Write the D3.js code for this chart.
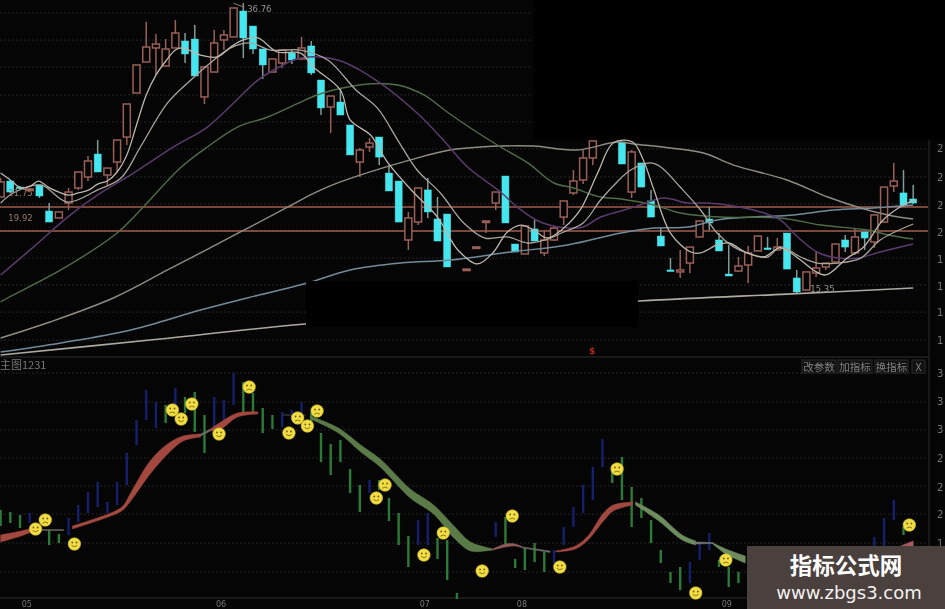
<!DOCTYPE html>
<html><head><meta charset="utf-8">
<script src="https://cdn.jsdelivr.net/npm/d3@7/dist/d3.min.js"></script>
<style>html,body{margin:0;padding:0;background:#050505;overflow:hidden}svg{display:block}</style>
</head><body><div id="c"></div>
<script>
const opens=[22.51,23.73,23.27,23.05,23.43,21.44,20.91,22.05,23.2,24.04,
25.79,24.19,25.18,27.09,30.45,32.82,33.89,32.51,33.89,34.42,
34.57,30.15,32.05,34.5,34.73,36.71,35.56,33.81,32.05,32.74,
33.5,33.05,34.04,31.44,29.38,29.76,28.01,25.18,26.33,27.09,
24.34,23.73,19.23,20.6,23.05,20.83,21.21,null,17.01,18.7,
20.68,22.05,24.11,18.92,18.16,20.07,18.24,19.23,20.98,22.82,
23.81,25.49,null,null,26.71,22.89,25.11,22.21,19.53,16.94,
16.79,17.47,19.46,20.83,19.23,16.63,16.86,17.32,18.39,18.62,
18.47,19.76,16.33,15.41,16.71,17.17,17.55,19.23,18.24,19.84,
19.08,20.6,23.35,22.82,22.36];
const highs=[23.96,23.81,23.35,23.2,23.43,22.05,21.37,23.2,24.42,25.64,
26.86,24.72,26.86,29.61,32.59,35.87,34.95,34.57,36.02,35.03,
35.64,32.44,35.26,35.26,36.94,37.32,35.56,33.81,33.05,33.73,
33.73,34.73,34.42,31.44,30.22,30.83,28.01,26.25,27.02,27.09,
24.95,23.73,21.37,23.2,23.96,22.51,21.21,null,17.01,18.7,
20.68,22.89,24.11,18.92,20.3,20.76,19.99,20.3,22.21,24.57,
26.1,26.79,null,null,26.71,26.1,25.11,23.05,20.14,17.85,
18.47,18.69,20.68,21.75,19.76,18.85,17.93,18.77,19.53,19.46,
19.38,19.76,16.94,16.79,18.31,17.47,18.92,19.61,20.07,19.84,
21.14,23.27,25.11,24.57,23.43];
const lows=[22.51,22.82,23.12,22.97,22.43,20.6,20.91,21.52,23.05,23.73,
24.42,23.35,24.42,26.48,30.45,32.82,31.82,32.51,33.89,32.74,
31.75,29.61,32.05,33.73,34.73,33.12,33.43,31.52,32.05,32.36,
32.66,32.97,31.82,28.77,27.4,28.77,25.72,24.04,25.95,24.95,
22.97,20.6,18.47,20.37,20.91,19.15,17.17,null,17.01,18.7,
19.76,21.52,20.53,18.31,18.16,19.15,18.01,19.15,20.37,22.66,
23.5,24.95,null,null,25.03,22.43,23.27,20.98,18.77,16.86,
16.33,16.71,19.46,19.99,18.39,16.48,16.79,15.95,18.39,18.47,
18.39,17.01,15.18,15.41,16.4,16.94,17.55,18.31,18.08,18.47,
18.62,20.6,22.89,21.75,21.97];
const closes=[23.66,22.89,23.2,23.12,22.59,20.6,21.37,22.89,24.42,25.26,
24.42,24.72,26.86,29.61,32.59,33.96,34.19,33.81,35.03,33.43,
31.75,32.44,34.27,34.88,36.94,34.65,33.81,32.59,33.05,33.73,
32.97,33.89,31.98,29.31,30.22,28.77,25.72,26.1,26.63,25.56,
22.97,20.6,20.91,23.2,21.37,19.15,17.17,null,17.01,18.7,
20.68,22.89,20.53,18.31,20.3,19.15,19.23,20.14,22.21,23.73,
25.49,26.79,null,null,25.03,25.95,23.27,20.98,18.77,16.86,
16.94,18.69,20.68,20.53,18.39,16.48,17.24,18.24,19.53,18.54,
18.69,17.01,15.26,16.79,17.09,17.47,18.92,18.69,19.46,19.38,
21.14,23.27,23.73,21.83,22.05];

const ma5=[[0,24.34],[1,23.81],[2.1,23.2],[3.1,23.35],[3.9,23.73],[4.9,23.27],[6,22.89],[7,22.66],[8,22.82],[9.1,23.05],[10,23.5],[11,23.73],[12,24.42],[13,25.72],[14,28.01],[15,30.3],[16,31.82],[17.1,32.97],[18,33.73],[18.7,33.89],[20.6,33.35],[22.3,33.2],[23.7,33.96],[25,34.5],[26.5,34.65],[28.5,33.58],[30.9,33.5],[32.2,32.44],[35,30.68],[36,28.39],[38.1,27.24],[39.9,25.11],[42.5,22.89],[45,20.98],[47.1,18.47],[49.1,17.4],[50.7,18.24],[52.2,19.84],[53.6,20.37],[54.9,19.99],[56.3,19.38],[58,20.14],[59.7,21.52],[61.5,24.34],[63.1,26.63],[65.1,26.71],[66.2,25.34],[67.3,23.05],[69,19.76],[71.1,18.31],[72.1,18.24],[73.8,18.85],[75,19],[76.9,18.24],[78.6,17.93],[80.3,18.62],[82.4,17.7],[83.7,16.94],[85,16.56],[87.2,17.85],[88.9,18.7],[90.9,20.76],[93,21.9],[94.2,22.28]];
const ma10=[[0,22.05],[1.3,22.82],[4.1,23.43],[6.9,22.13],[10,23.05],[12.4,23.96],[14.4,26.33],[17.2,29.69],[19.6,31.44],[21.6,32.74],[23.7,33.89],[25.7,34.27],[27.8,33.73],[30.9,33.73],[33.7,32.97],[36.6,30.68],[38.8,29.31],[40.9,26.86],[42.9,24.57],[45.3,22.82],[47.7,20.53],[49.9,19.38],[52.2,19.46],[54.3,19],[56.1,19.23],[58,19.84],[60,20.53],[61.8,22.28],[63.5,23.66],[64.9,24.57],[66.9,25.11],[68,24.8],[70,23.27],[72.1,21.52],[73.8,19.76],[75.5,18.7],[76.9,18.24],[79,17.93],[80.3,18.7],[82.4,17.93],[84.1,17.47],[86.2,17.47],[88.6,17.85],[90.6,19.23],[94,20.45]];
const ma20=[[0,16.56],[3.4,18.7],[6.9,20.98],[10.3,22.82],[13.7,24.34],[17.8,26.33],[21.3,27.85],[24,29.69],[26.5,31.44],[29.1,32.59],[30.9,33.12],[34.7,32.97],[39.1,31.21],[42.9,28.92],[45.6,26.86],[48.1,24.8],[51.5,22.89],[53.2,21.75],[55.6,20.6],[58.4,20.14],[60,20.22],[61.8,20.98],[63.9,21.44],[65.9,21.9],[68.3,22.43],[70.8,22.05],[72.8,22.05],[75.5,21.82],[78.3,21.37],[80.3,20.76],[82.1,19.46],[84.1,18.31],[86.2,17.85],[88.3,17.85],[90.6,18.31],[94,18.92]];
const ma30=[[0,14.5],[0.7,14.8],[6.2,16.94],[12,19.76],[14.7,21.75],[18.5,24.72],[21.3,26.33],[24.4,27.85],[27.5,28.62],[30.9,29.76],[32.6,30.3],[34.3,30.68],[37.8,31.14],[40.9,31.06],[43.6,30.3],[46,29],[48.4,27.78],[51.5,26.33],[54.3,25.11],[57,23.58],[59,23.2],[61.8,22.51],[63.9,22.36],[67.3,21.9],[70,21.29],[74.2,20.98],[80.3,20.91],[84.5,20.37],[89.3,19.99],[91.4,19.61],[94,19.3]];
const ma60=[[0,11.75],[5.1,12.97],[11.6,14.8],[17.2,16.94],[24.7,19.84],[29.6,21.75],[30.9,22.28],[33,23.05],[35,23.66],[42.2,25.34],[46.3,26.1],[51.5,26.4],[54.9,26.4],[59.4,26.1],[63.5,26.71],[65.2,26.56],[69,26.25],[72.4,25.87],[75.5,24.95],[81,23.81],[85.2,22.51],[88.6,21.67],[91.4,21.14],[94,20.83]];
const ma120=[[0,10.68],[6.2,11.37],[13.4,12.36],[20.6,13.88],[25.4,14.8],[31.6,15.95],[36,16.94],[41.2,17.47],[46.3,17.7],[52.5,18.31],[58.4,18.85],[63.9,19.76],[67.3,20.14],[70.8,20.22],[73.8,20.76],[77.5,20.98],[81.7,21.14],[85.8,21.52],[89.9,21.67],[94,21.9]];
const ma250=[[0,10.45],[15.4,11.59],[31.4,12.81],[65.8,14.57],[81,15.1],[94,15.56]];
const maNames=[ma250,ma120,ma60,ma30,ma20,ma10,ma5];
const maColors=["#aeaaa2","#718b9a","#8f8c82","#4f6e47","#5c3a6e","#aaa59a","#bdb7ac"];
const maWidths=[1.6,1.5,1.4,1.4,1.5,1.3,1.3];

const levels=[21.75,19.92];
const priceTicks=[36.56,34.49,32.43,30.3,28.24,26.18,24.04,21.98,19.92,17.85,15.79,13.73,11.59];
const priceTickLabels=["2","2","2","2","1","1","1","1"];
const priceTickLabelVals=[26.25,24.04,21.9,19.84,17.78,15.7,13.7,11.6];
const priceNotes=[["36.76",25.4,36.9],["21.75",0.8,22.2],["19.92",0.8,20.3],["15.35",83.4,15.35]];
const peakHook=[[24,37.3],[25.1,37.0]];

const barHi=[99,97,94,96,null,79,75,91,104,117,127,107,127,156,189,219,207,204,221,212,217,194,212,209,236,227,216,201,194,197,199,207,196,176,165,169,140,124,129,129,111,96,73,89,96,71,69,16,null,null,null,87,92,50,61,66,57,59,82,102,124,142,170,144,152,122,111,89,59,37,42,47,66,76,49,42,37,null,null,null,null,null,null,null,null,null,null,null,null,null,72,91,109,82,null];
const barLo=[83,86,81,86,null,64,66,74,87,96,102,96,104,124,164,189,181,186,204,196,177,156,181,184,204,196,196,176,180,182,189,192,184,147,134,147,116,97,116,119,88,64,42,64,64,50,29,10,null,null,null,72,64,41,39,47,37,46,64,82,96,109,142,126,109,82,91,66,46,26,19,26,49,59,42,22,26,null,null,null,null,null,null,null,null,null,null,null,null,null,62,62,89,74,null];
const barUp=new Set([3,7,8,9,10,11,12,13,14,15,16,18,22,23,24,29,30,31,38,43,44,51,57,58,59,60,61,62,71,72,73,90,91,92]);

const ribbons=[
 ["#a2483f",[[0,74,67],[2.1,78,73],[3.7,82,79]]],
 ["#6d6d62",[[3.8,80,79],[4.8,79.5,78.5],[6.5,79.5,78.5]]],
 ["#a2483f",[[7.4,83,80],[11.6,97,94],[12.6,103,99],[13.4,116,108],[15.4,148,135],[17.2,165,155],[18.8,173,168],[20.6,175,172]]],
 ["#6d6d62",[[20.6,175,173],[21.6,180,178]]],
 ["#a2483f",[[21.6,180,178],[22.7,187,180],[24.4,196,192],[26.5,197,195]]],
 ["#33332f",[[29.1,194.5,193.5],[31.4,194.5,193.5]]],
 ["#5a7a48",[[31.9,193,190],[34.8,181,176],[37.1,164,157],[39.1,150,142],[42.2,120,111],[44.6,104,95],[46.7,83,71],[48.4,67,58],[49.9,62,58],[50.7,60,59]]],
 ["#8d5a58",[[50.7,60,59],[52,65,62],[53,65,63],[53.8,62,61]]],
 ["#6b6f66",[[53.8,62,61],[56.6,58,56.5]]],
 ["#a2483f",[[57.2,58,57],[59.2,63,60],[60.5,73,69],[62.1,96,88],[63.1,104,98],[65.1,107,104]]],
 ["#6e8d5f",[[65.4,107,104],[67.8,94,88],[70.2,74,69],[71.6,68,64]]],
 ["#77797a",[[71.6,67,65],[73.3,66.5,65.5]]],
 ["#6e8d5f",[[73.3,66.5,65.5],[74.7,60,55],[76.7,53,46]]],
 ["#a85a5f",[[92.7,63,60],[94,68,63]]]
];
const faceIdx=[3.6,4.6,7.6,17.7,18.6,19.7,22.5,25.6,29.7,30.6,31.6,32.6,38.7,39.6,43.6,45.6,49.6,52.7,57.6,63.5,71.6,74.7,93.6];
const faceVal=[80,89,65,199,190,205,175,222,176,191,183,198,111,124,54,76,38,93,42,140,16,49,84];
const faceMood=["s","f","s","f","s","f","s","f","s","f","s","f","s","f","s","f","s","f","s","f","s","f","f"];
const lowerGrid=[236,207,179,151,123,95,66,37];
const lowerTickVals=[236,208,180,151,122,95,66];
const lowerTickLabels=["3","3","3","2","2","2","1"];
const monthIdx=[2.7,22.7,43.7,53.7,74.8];
const monthLabels=["05","06","07","08","09"];
const buttons=[["改参数",802,34],["加指标",838,34],["换指标",875,33],["X",912,13]];

const W=945,H=609;
const svg=d3.select("#c").append("svg").attr("width",W).attr("height",H).style("background","#050505");
const root=svg.append("g").style("filter","blur(0.7px)");
const x=d3.scaleLinear().domain([0,94]).range([0.6,913.2]);
const y=d3.scaleLinear().domain([37.55,37.55-609*0.07634]).range([0,609]);
const yl=d3.scaleLinear().domain([0,252]).range([609,357]);

root.append("g").selectAll("line").data(priceTicks).join("line")
 .attr("x1",0).attr("x2",928).attr("y1",d=>y(d)).attr("y2",d=>y(d))
 .attr("stroke","#252525").attr("stroke-width",1).attr("stroke-dasharray","2 2");
root.append("g").selectAll("line").data(lowerGrid).join("line")
 .attr("x1",0).attr("x2",928).attr("y1",d=>yl(d)).attr("y2",d=>yl(d))
 .attr("stroke","#242424").attr("stroke-width",1).attr("stroke-dasharray","2 2");
root.append("rect").attr("x",533).attr("y",0).attr("width",412).attr("height",140).attr("fill","#000");
root.append("line").attr("x1",929).attr("x2",929).attr("y1",140).attr("y2",600).attr("stroke","#2a2a2a");
root.append("line").attr("x1",0).attr("x2",929).attr("y1",357).attr("y2",357).attr("stroke","#2e2e2e");
root.append("line").attr("x1",0).attr("x2",929).attr("y1",598).attr("y2",598).attr("stroke","#2e2e2e");
root.append("g").selectAll("line").data(levels).join("line")
 .attr("x1",0).attr("x2",928).attr("y1",d=>y(d)).attr("y2",d=>y(d))
 .attr("stroke","#a05c4c").attr("stroke-width",1.6);

const idx=d3.range(opens.length).filter(i=>opens[i]!=null);
const UP="#9a5f56",DN="#46e6ee";
const cg=root.append("g");
cg.selectAll("line").data(idx).join("line")
 .attr("x1",i=>x(i)).attr("x2",i=>x(i)).attr("y1",i=>y(highs[i])).attr("y2",i=>y(lows[i]))
 .attr("stroke",i=>closes[i]>=opens[i]?UP:"#7c9c9a").attr("stroke-width",1.5);
cg.selectAll("rect").data(idx).join("rect")
 .attr("x",i=>x(i)-3.5).attr("width",7)
 .attr("y",i=>y(Math.max(opens[i],closes[i])))
 .attr("height",i=>Math.max(1.5,Math.abs(y(opens[i])-y(closes[i]))))
 .attr("fill",i=>closes[i]>=opens[i]?"#050505":DN)
 .attr("stroke",i=>closes[i]>=opens[i]?UP:DN).attr("stroke-width",i=>closes[i]>=opens[i]?1.5:0.5);

const line=d3.line().x(d=>x(d[0])).y(d=>y(d[1])).curve(d3.curveCatmullRom.alpha(0.5));
root.append("g").selectAll("path").data(maNames).join("path")
 .attr("d",line).attr("fill","none").attr("stroke",(d,i)=>maColors[i]).attr("stroke-width",(d,i)=>maWidths[i]);

root.append("rect").attr("x",306).attr("y",281).attr("width",332).attr("height",46).attr("fill","#000");

root.append("g").selectAll("text").data(priceNotes).join("text")
 .attr("x",d=>x(d[1])).attr("y",d=>y(d[2])+(d[0]==="36.76"?3:d[0]==="15.35"?1:-5))
 .text(d=>d[0]).attr("font-family","DejaVu Sans").attr("font-size",8.5)
 .attr("fill",d=>d[0]==="21.75"||d[0]==="19.92"?"#a07868":"#96928a");
root.append("path").attr("d",d3.line().x(d=>x(d[0])).y(d=>y(d[1]))(peakHook))
 .attr("fill","none").attr("stroke","#8a8078").attr("stroke-width",1);
root.append("text").attr("x",589).attr("y",354).text("$").attr("font-family","DejaVu Sans").attr("font-size",9).attr("font-weight","bold").attr("fill","#b8281e");

const barIdx=d3.range(barHi.length).filter(i=>barHi[i]!=null);
root.append("g").selectAll("line").data(barIdx).join("line")
 .attr("x1",i=>x(i)).attr("x2",i=>x(i)).attr("y1",i=>yl(barHi[i])).attr("y2",i=>yl(barLo[i]))
 .attr("stroke",i=>barUp.has(i)?"#14206e":"#2b7a37").attr("stroke-width",2.4);

const area=d3.area().x(d=>x(d[0])).y0(d=>yl(d[2])).y1(d=>yl(d[1])).curve(d3.curveCatmullRom.alpha(0.5));
root.append("g").selectAll("path").data(ribbons).join("path")
 .attr("d",d=>area(d[1])).attr("fill",d=>d[0]).attr("stroke",d=>d[0]).attr("stroke-width",0.5);

const fg=root.append("g").selectAll("g").data(d3.range(faceIdx.length)).join("g")
 .attr("transform",i=>`translate(${x(faceIdx[i])},${yl(faceVal[i])})`);
fg.append("circle").attr("r",6.3).attr("fill","#f2de42").attr("stroke","#c0ad30").attr("stroke-width",0.6);
fg.append("circle").attr("cx",-2.1).attr("cy",-1.5).attr("r",0.9).attr("fill","#6a5a18");
fg.append("circle").attr("cx",2.1).attr("cy",-1.5).attr("r",0.9).attr("fill","#6a5a18");
fg.append("path").attr("d",i=>faceMood[i]==="s"?"M-2.8,1.5Q0,4 2.8,1.5":"M-2.8,3.2Q0,0.8 2.8,3.2")
 .attr("fill","none").attr("stroke","#7a6a1c").attr("stroke-width",0.9);

const tick={fill:"#777",family:"DejaVu Sans"};
root.append("g").selectAll("text").data(priceTickLabelVals).join("text")
 .attr("x",937).attr("y",d=>y(d)+4).text((d,i)=>priceTickLabels[i])
 .attr("font-family",tick.family).attr("font-size",10).attr("fill",tick.fill);
root.append("g").selectAll("text").data(lowerTickVals).join("text")
 .attr("x",937).attr("y",d=>yl(d)+4).text((d,i)=>lowerTickLabels[i])
 .attr("font-family",tick.family).attr("font-size",10).attr("fill",tick.fill);
root.append("g").selectAll("text").data(monthIdx).join("text")
 .attr("x",d=>x(d)).attr("y",607).attr("text-anchor","middle").text((d,i)=>monthLabels[i])
 .attr("font-family",tick.family).attr("font-size",8).attr("fill",tick.fill);

root.append("text").attr("x",0).attr("y",369).text("主图1231")
 .attr("font-family","Noto Sans CJK SC").attr("font-size",11).attr("fill","#777");
const bg=root.append("g").selectAll("g").data(buttons).join("g");
bg.append("rect").attr("x",d=>d[1]).attr("y",360).attr("width",d=>d[2]).attr("height",13)
 .attr("fill","#111").attr("stroke","#2a2a2a");
bg.append("text").attr("x",d=>d[1]+d[2]/2).attr("y",370.5).attr("text-anchor","middle").text(d=>d[0])
 .attr("font-family","Noto Sans CJK SC").attr("font-size",10.5).attr("fill","#808080");

svg.append("rect").attr("x",747).attr("y",546).attr("width",198).attr("height",63).attr("fill","#4a403e");
svg.append("text").attr("x",846).attr("y",574).attr("text-anchor","middle").text("指标公式网")
 .attr("font-family","Noto Sans CJK SC").attr("font-weight","bold").attr("font-size",22.5).attr("fill","#fff");
svg.append("text").attr("x",849).attr("y",599).attr("text-anchor","middle").text("www.zbgs3.com")
 .attr("font-family","DejaVu Sans").attr("font-size",18).attr("fill","#f4f2f0");
</script></body></html>
